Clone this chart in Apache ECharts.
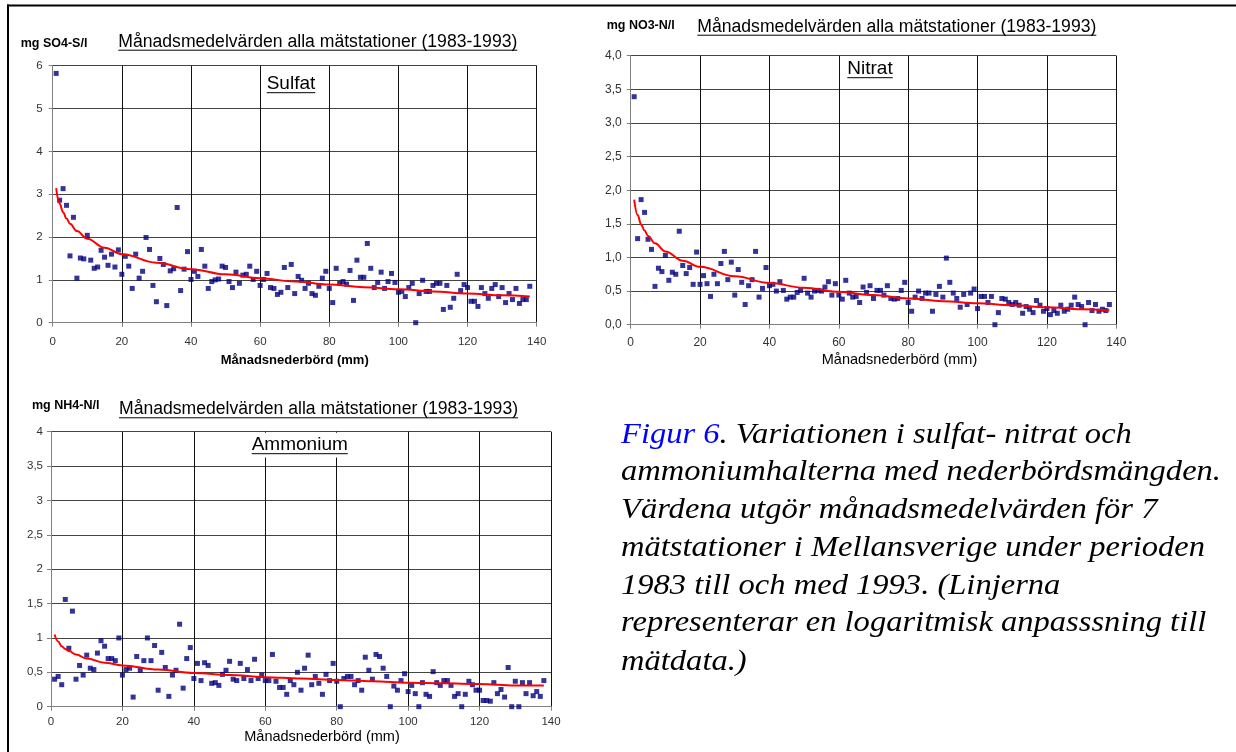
<!DOCTYPE html>
<html><head><meta charset="utf-8">
<script src="https://cdn.jsdelivr.net/npm/echarts@6/dist/echarts.min.js"></script>
<style>html,body{margin:0;padding:0;background:#fff}#c{width:1236px;height:752px}</style>
</head><body><div id="c"></div>
<script>
// Monthly precipitation (mm), x positions shared by all three panels
const precipMm = [1,2,3,4,5,6,7,8,9,10,11,12,13,14,15,16,17,18,19,20,21,22,23,24,25,26,27,28,29,30,31,32,33,34,35,36,37,38,39,40,41,42,43,44,45,46,47,48,49,50,51,52,53,54,55,56,57,58,59,60,61,62,63,64,65,66,67,68,69,70,71,72,73,74,75,76,77,78,79,80,81,82,83,84,85,86,87,88,89,90,91,92,93,94,95,96,97,98,99,100,101,102,103,104,105,106,107,108,109,110,111,112,113,114,115,116,117,118,119,120,121,122,123,124,125,126,127,128,129,130,131,132,133,134,135,136,137,138];

// mg SO4-S/l
const sulfat = [5.82,2.86,3.13,2.74,1.56,2.46,1.04,1.51,1.49,2.04,1.46,1.27,1.30,1.69,1.53,1.34,1.60,1.30,1.70,1.13,1.55,1.32,0.80,1.60,1.04,1.20,1.99,1.71,0.87,0.49,1.50,1.36,0.40,1.21,1.26,2.69,0.75,1.25,1.66,1.01,1.20,1.08,1.71,1.32,0.80,0.96,1.00,1.02,1.32,1.29,0.96,0.82,1.18,0.92,1.11,1.13,1.32,1.01,1.20,0.87,1.01,1.15,0.82,0.80,0.66,0.71,1.29,0.82,1.36,0.68,1.08,0.99,0.80,0.92,0.68,0.64,0.85,1.04,1.20,0.80,0.47,1.27,0.92,0.96,0.90,1.22,0.52,1.46,1.06,1.06,1.85,1.27,0.82,0.94,1.18,0.80,0.96,1.15,0.94,0.71,0.73,0.61,0.82,0.92,0.00,0.68,0.99,0.73,0.73,0.87,0.92,0.92,0.31,0.87,0.36,0.57,1.13,0.75,0.89,0.82,0.50,0.50,0.38,0.82,0.68,0.57,0.80,0.89,0.61,0.82,0.47,0.68,0.54,0.80,0.45,0.54,0.54,0.85];

// mg NO3-N/l
const nitrat = [3.39,1.28,1.86,1.67,1.27,1.12,0.57,0.84,0.79,1.03,0.66,0.78,0.75,1.39,0.88,0.76,0.85,0.60,1.08,0.60,0.73,0.61,0.42,0.75,0.61,0.91,1.09,0.67,0.93,0.44,0.82,0.63,0.30,0.58,0.67,1.09,0.41,0.54,0.85,0.58,0.60,0.50,0.64,0.51,0.38,0.41,0.41,0.48,0.51,0.69,0.47,0.41,0.50,0.51,0.50,0.56,0.64,0.44,0.61,0.44,0.38,0.66,0.47,0.41,0.42,0.33,0.56,0.48,0.58,0.39,0.51,0.51,0.44,0.58,0.39,0.38,0.39,0.51,0.63,0.33,0.20,0.41,0.50,0.39,0.47,0.47,0.20,0.45,0.57,0.41,0.99,0.63,0.47,0.39,0.26,0.45,0.30,0.47,0.53,0.24,0.42,0.42,0.33,0.42,0.00,0.18,0.39,0.38,0.33,0.30,0.33,0.29,0.17,0.27,0.23,0.18,0.36,0.29,0.20,0.24,0.15,0.21,0.17,0.29,0.20,0.23,0.29,0.41,0.30,0.27,0.00,0.33,0.21,0.30,0.20,0.23,0.21,0.30];

// mg NH4-N/l
const ammonium = [0.40,0.44,0.32,1.56,0.85,1.39,0.40,0.60,0.46,0.75,0.56,0.54,0.78,0.96,0.88,0.70,0.70,0.67,1.00,0.46,0.54,0.56,0.14,0.73,0.53,0.67,1.00,0.67,0.89,0.24,0.79,0.57,0.15,0.46,0.53,1.20,0.27,0.70,0.86,0.41,0.63,0.38,0.64,0.60,0.34,0.35,0.31,0.47,0.53,0.66,0.40,0.38,0.63,0.41,0.54,0.38,0.69,0.41,0.46,0.38,0.38,0.76,0.37,0.28,0.28,0.18,0.38,0.32,0.50,0.24,0.56,0.75,0.32,0.44,0.34,0.18,0.47,0.38,0.63,0.37,0.00,0.41,0.44,0.44,0.32,0.38,0.24,0.72,0.53,0.40,0.76,0.73,0.56,0.44,0.00,0.30,0.24,0.38,0.48,0.22,0.31,0.19,0.00,0.35,0.18,0.15,0.51,0.35,0.31,0.38,0.38,0.31,0.15,0.19,0.00,0.18,0.37,0.32,0.24,0.24,0.09,0.09,0.08,0.35,0.19,0.25,0.14,0.57,0.00,0.37,0.00,0.35,0.19,0.35,0.16,0.22,0.15,0.38];

// Logarithmic trend lines at sample x
const trendX = [1,2,3,4,5,7,10,15,20,30,40,50,60,70,80,90,100,110,120,130,138];
const sulfatTrend = [3.14,2.78,2.58,2.43,2.31,2.14,1.96,1.75,1.60,1.40,1.25,1.13,1.04,0.96,0.89,0.83,0.78,0.73,0.68,0.64,0.61];
const nitratTrend = [1.86,1.63,1.49,1.40,1.32,1.21,1.09,0.95,0.86,0.72,0.62,0.55,0.49,0.44,0.39,0.35,0.32,0.29,0.26,0.23,0.21];
const ammoniumTrend = [1.05,0.95,0.88,0.84,0.81,0.76,0.70,0.64,0.60,0.54,0.49,0.46,0.43,0.41,0.39,0.37,0.35,0.34,0.33,0.31,0.31];

// Text
const xAxisName = 'Månadsnederbörd (mm)';
const panelTitle = 'Månadsmedelvärden alla mätstationer (1983-1993)';
const unitLabels = ['mg SO4-S/l', 'mg NO3-N/l', 'mg NH4-N/l'];
const seriesNames = ['Sulfat', 'Nitrat', 'Ammonium'];
const captionLines = [
  '{b|Figur 6}. Variationen i sulfat- nitrat och',
  'ammoniumhalterna med nederbördsmängden.',
  'Värdena utgör månadsmedelvärden för 7',
  'mätstationer i Mellansverige under perioden',
  '1983 till och med 1993. (Linjerna',
  'representerar en logaritmisk anpasssning till',
  'mätdata.)'
];

const SANS = '"Liberation Sans", Arial, sans-serif';
const SERIF = '"Liberation Serif", "Times New Roman", serif';
const ctx = document.createElement('canvas').getContext('2d');
function textW(str, font) { ctx.font = font; return ctx.measureText(str).width; }

const pairs = (xs, ys) => xs.map((x, k) => [x, ys[k]]);

const grids = [
  { left: 52.7, top: 65.7, width: 484, height: 257 },
  { left: 630.7, top: 55.7, width: 485.6, height: 269 },
  { left: 51, top: 431.7, width: 500, height: 275 }
];

const yCfg = [
  { max: 6, interval: 1, fmt: v => String(v), margin: 10, fs: 11.5 },
  { max: 4, interval: 0.5, fmt: v => v.toFixed(1).replace('.', ','), margin: 9, fs: 12 },
  { max: 4, interval: 0.5, fmt: v => String(v).replace('.', ','), margin: 8, fs: 11.5 }
];
const xCfg = [
  { margin: 13, fs: 11.5, nameGap: 31, nameFont: { fontWeight: 'bold', fontSize: 13 }, nameShift: 0 },
  { margin: 12, fs: 12, nameGap: 28, nameFont: { fontWeight: 'normal', fontSize: 14.5 }, nameShift: 52 },
  { margin: 9.5, fs: 11.5, nameGap: 19, nameFont: { fontWeight: 'normal', fontSize: 14.5 }, nameShift: 42 }
];

const xAxes = xCfg.map((c, i) => ({
  type: 'value', gridIndex: i, min: 0, max: 140, interval: 20,
  name: xAxisName, nameLocation: 'middle', nameGap: c.nameGap,
  nameTextStyle: Object.assign({ color: '#000', fontFamily: SANS, padding: [0, 0, 0, c.nameShift] }, c.nameFont),
  axisLine: { show: true, onZero: false, lineStyle: { color: '#808080', width: 1 } },
  axisTick: { show: true, length: 4, inside: false, lineStyle: { color: '#808080' } },
  axisLabel: { color: '#333', fontFamily: SANS, fontSize: c.fs, margin: c.margin },
  splitLine: { show: true, lineStyle: { color: '#111', width: 1 } }
}));
const yAxes = yCfg.map((c, i) => ({
  type: 'value', gridIndex: i, min: 0, max: c.max, interval: c.interval,
  axisLine: { show: true, onZero: false, lineStyle: { color: '#808080', width: 1 } },
  axisTick: { show: true, length: 4, inside: false, lineStyle: { color: '#808080' } },
  axisLabel: { color: '#333', fontFamily: SANS, fontSize: c.fs, margin: c.margin, formatter: c.fmt },
  splitLine: { show: true, lineStyle: { color: '#444', width: 1 } }
}));

const values = [sulfat, nitrat, ammonium];
const trends = [sulfatTrend, nitratTrend, ammoniumTrend];
const series = [];
values.forEach((v, i) => {
  series.push({
    type: 'scatter', name: seriesNames[i], xAxisIndex: i, yAxisIndex: i,
    symbol: 'rect', symbolSize: 5, clip: false, z: 3,
    itemStyle: { color: '#000080' }, data: pairs(precipMm, v)
  });
  series.push({
    type: 'line', xAxisIndex: i, yAxisIndex: i, smooth: 0.4, smoothMonotone: 'x',
    symbol: 'none', showSymbol: false, z: 4,
    lineStyle: { color: '#FF0000', width: 2 }, data: pairs(trendX, trends[i])
  });
});

// Layout of text decorations
const titlePos = [ { x: 118.3, y: 41.7 }, { x: 697.3, y: 26.7 }, { x: 119, y: 409.3 } ];
const unitPos = [ { x: 20.7, y: 44 }, { x: 606.7, y: 26 }, { x: 32, y: 406 } ];
const namePos = [ { x: 266.7, y: 84 }, { x: 847.3, y: 69 }, { x: 251.7, y: 445 } ];
const graphic = [];
graphic.push({ type: 'rect', shape: { x: 7, y: 4.5, width: 1229, height: 2 }, style: { fill: '#000' }, z: 10 });
graphic.push({ type: 'rect', shape: { x: 7, y: 4.5, width: 2, height: 748 }, style: { fill: '#000' }, z: 10 });

const titleFont = '17.6px ' + SANS;
const nameFont = '19px ' + SANS;
for (let i = 0; i < 3; i++) {
  graphic.push({ type: 'text', x: unitPos[i].x, y: unitPos[i].y, z: 10,
    style: { text: unitLabels[i], font: 'bold 12.5px ' + SANS, fill: '#000', verticalAlign: 'middle', textAlign: 'left' } });
  const tw = textW(panelTitle, titleFont);
  graphic.push({ type: 'text', x: titlePos[i].x, y: titlePos[i].y, z: 10,
    style: { text: panelTitle, font: titleFont, fill: '#000', verticalAlign: 'middle', textAlign: 'left' } });
  graphic.push({ type: 'line', z: 10, shape: { x1: titlePos[i].x, y1: titlePos[i].y + 8.5, x2: titlePos[i].x + tw, y2: titlePos[i].y + 8.5 },
    style: { stroke: '#000', lineWidth: 1 } });
  const nw = textW(seriesNames[i], nameFont);
  if (i === 2) {
    graphic.push({ type: 'rect', z: 1, shape: { x: namePos[i].x - 2, y: grids[2].top + 1, width: nw + 4, height: namePos[i].y + 12.5 - grids[2].top - 1 },
      style: { fill: '#fff' } });
  }
  graphic.push({ type: 'text', x: namePos[i].x, y: namePos[i].y, z: 10,
    style: { text: seriesNames[i], font: nameFont, fill: '#000', verticalAlign: 'middle', textAlign: 'left' } });
  graphic.push({ type: 'line', z: 10, shape: { x1: namePos[i].x, y1: namePos[i].y + 8.7, x2: namePos[i].x + nw, y2: namePos[i].y + 8.7 },
    style: { stroke: '#000', lineWidth: 1 } });
}
const capY = [435, 472.5, 510.5, 548.5, 586, 623.5, 662];
const capFont = 'italic 30px ' + SERIF;
captionLines.forEach((t, k) => {
  graphic.push({ type: 'text', x: 621, y: capY[k], z: 10, scaleX: 1.085, scaleY: 1,
    style: { text: t, font: capFont, fill: '#000', verticalAlign: 'middle', textAlign: 'left',
      rich: { b: { fill: '#0000FF', font: capFont } } } });
});

const chart = echarts.init(document.getElementById('c'), null, { renderer: 'canvas' });
chart.setOption({
  animation: false,
  backgroundColor: '#fff',
  grid: grids.map(g => Object.assign({ containLabel: false, show: false }, g)),
  xAxis: xAxes,
  yAxis: yAxes,
  series: series,
  graphic: graphic
});
</script></body></html>
